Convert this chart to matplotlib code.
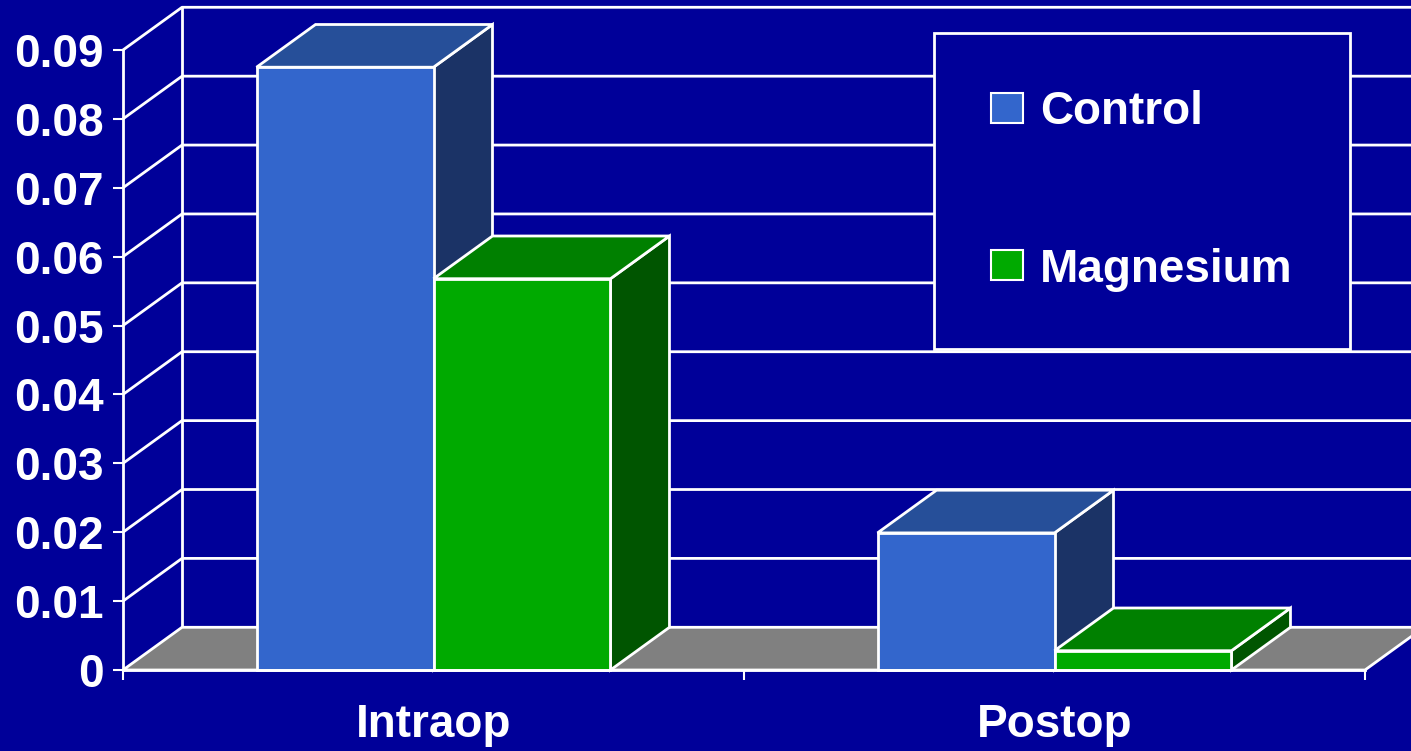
import matplotlib

matplotlib.use("Agg")
import matplotlib.pyplot as plt
from matplotlib.patches import Patch, Polygon, Rectangle

categories = ["Intraop", "Postop"]
series_names = ["Control", "Magnesium"]
control = [0.0875, 0.0199]
magnesium = [0.0568, 0.0028]
y_ticks = [0, 0.01, 0.02, 0.03, 0.04, 0.05, 0.06, 0.07, 0.08, 0.09]
y_tick_labels = ["0", "0.01", "0.02", "0.03", "0.04", "0.05", "0.06", "0.07", "0.08", "0.09"]

BG = "#000099"
FRONT = ["#3366cc", "#00aa00"]
TOP = ["#264f99", "#008000"]
SIDE = ["#1b3366", "#005500"]
FLOOR = "#808080"
DX, DY = 0.095, 0.0062  # depth offset (category units, value units)
BAR_W = 0.285

plt.rcParams["font.family"] = ["Liberation Sans", "DejaVu Sans"]
plt.rcParams["font.weight"] = "bold"

fig = plt.figure(figsize=(14.11, 7.51), dpi=100, facecolor=BG)
ax = fig.add_axes([123 / 1411, 81 / 751, 1242 / 1411, 620 / 751])
ax.set_facecolor("none")
ax.set_xlim(0, len(categories))
ax.set_ylim(0, y_ticks[-1])

line_kw = dict(color="white", linewidth=2, clip_on=False, solid_capstyle="butt", zorder=1)
n = len(categories)

# walls: side diagonals and back gridlines
for v in y_ticks[1:]:
    ax.plot([0, DX, n + DX], [v, v + DY, v + DY], **line_kw)
ax.plot([DX, DX], [DY, y_ticks[-1] + DY], **line_kw)

# floor
ax.add_patch(Polygon([(0, 0), (n, 0), (n + DX, DY), (DX, DY)], closed=True,
                     facecolor=FLOOR, edgecolor="white", linewidth=2, clip_on=False, zorder=2))

# 3D bars, left to right so later faces overlap earlier sides
z = 3
for i in range(n):
    for j, vals in enumerate([control, magnesium]):
        h = vals[i]
        x0 = i + 0.5 - BAR_W + j * BAR_W
        x1 = x0 + BAR_W
        kw = dict(edgecolor="white", linewidth=2, clip_on=False, joinstyle="miter")
        ax.add_patch(Polygon([(x1, 0), (x1 + DX, DY), (x1 + DX, h + DY), (x1, h)],
                             closed=True, facecolor=SIDE[j], zorder=z, **kw))
        ax.add_patch(Polygon([(x0, h), (x1, h), (x1 + DX, h + DY), (x0 + DX, h + DY)],
                             closed=True, facecolor=TOP[j], zorder=z + 0.1, **kw))
        ax.add_patch(Rectangle((x0, 0), BAR_W, h, facecolor=FRONT[j], zorder=z + 0.2, **kw))
        z += 1

# axes styling
for side in ["top", "right"]:
    ax.spines[side].set_visible(False)
for side in ["left", "bottom"]:
    ax.spines[side].set_color("white")
    ax.spines[side].set_linewidth(2)
    ax.spines[side].set_zorder(20)
ax.set_yticks(y_ticks)
ax.set_yticklabels(y_tick_labels)
ax.set_xticks(range(n + 1))
ax.set_xticklabels([])
ax.set_xticks([i + 0.5 for i in range(n)], minor=True)
ax.set_xticklabels(categories, minor=True)
ax.tick_params(axis="both", which="major", colors="white", length=7.2, width=1.5,
               direction="out", labelsize=33, pad=7)
ax.tick_params(axis="x", which="minor", length=0, colors="white", labelsize=33, pad=24)

handles = [Patch(facecolor=FRONT[k], edgecolor="white", linewidth=1.5) for k in range(2)]
leg = ax.legend(handles, series_names, loc="upper left",
                bbox_to_anchor=(934 / 1411, 1 - 33 / 751), bbox_transform=fig.transFigure,
                fontsize=33, frameon=True, fancybox=False, framealpha=1,
                facecolor=BG, edgecolor="white", labelcolor="white",
                borderpad=1.25, labelspacing=2.47, handlelength=0.7, handleheight=0.63,
                handletextpad=0.37, borderaxespad=0)
leg.get_frame().set_linewidth(2)
leg.set_zorder(30)

fig.savefig("out.png", dpi=100, facecolor=BG)
